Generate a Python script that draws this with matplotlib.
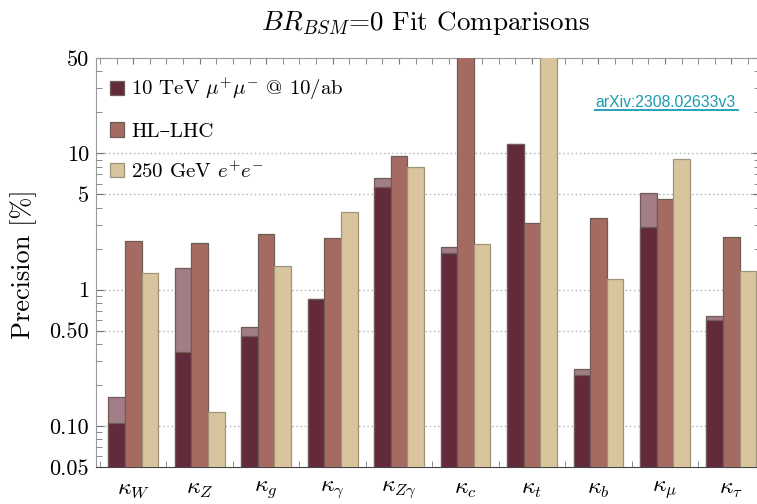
import numpy as np
import matplotlib
matplotlib.use("Agg")
import matplotlib.pyplot as plt
from matplotlib.lines import Line2D

plt.rcParams['font.family'] = ['cmr10', 'DejaVu Serif']
plt.rcParams['mathtext.fontset'] = 'cm'
plt.rcParams['axes.formatter.use_mathtext'] = True

# data (precision in %)
labels = [r'$\kappa_W$', r'$\kappa_Z$', r'$\kappa_g$', r'$\kappa_\gamma$', r'$\kappa_{Z\gamma}$',
          r'$\kappa_c$', r'$\kappa_t$', r'$\kappa_b$', r'$\kappa_\mu$', r'$\kappa_\tau$']
muon_10tev = [0.105, 0.35, 0.46, 0.85, 5.7, 1.87, 11.7, 0.236, 2.9, 0.60]
muon_10tev_upper = [0.163, 1.44, 0.53, 0.85, 6.6, 2.06, 11.7, 0.26, 5.1, 0.64]
hl_lhc = [2.27, 2.2, 2.54, 2.38, 9.5, 60, 3.08, 3.37, 4.6, 2.42]
ee_250 = [1.32, 0.126, 1.49, 3.7, 7.9, 2.17, 60, 1.2, 9.1, 1.36]

c_dark = '#622a3a'
c_light = '#a27d87'
c_hl = '#a56b62'
c_ee = '#d8c59d'
edge = '#6e5c55'

fig = plt.figure(figsize=(7.57, 5.04), dpi=100)
ax = fig.add_axes([96/757, 37/504, 664/757, 409/504])

x = np.arange(1, len(labels) + 1)
w = 0.25

# lighter part = looser fit, dark drawn on top
ax.bar(x - w, muon_10tev_upper, w, color=c_light, edgecolor=edge, linewidth=0.9, zorder=2)
ax.bar(x - w, muon_10tev, w, color=c_dark, edgecolor=edge, linewidth=0.9, zorder=3,
       label=r'10 TeV $\mu^{+}\mu^{-}$ @ 10/ab')
ax.bar(x, hl_lhc, w, color=c_hl, edgecolor=edge, linewidth=0.9, zorder=3, label='HL\u2013LHC')
ax.bar(x + w, ee_250, w, color=c_ee, edgecolor='#a09478', linewidth=0.9, zorder=3,
       label=r'250 GeV $e^{+}e^{-}$')

ax.set_yscale('log')
ax.set_ylim(0.05, 50)
ax.set_xlim(0.44, 10.43)

yt = [0.05, 0.1, 0.5, 1, 5, 10, 50]
ytl = ['0.05', '0.10', '0.50', '1', '5', '10', '50']
ax.set_yticks(yt)
ax.set_yticklabels(ytl)
minor = [v * m for v in [0.01, 0.1, 1, 10] for m in range(2, 10)]
minor = [v for v in minor if 0.05 < v < 50 and v not in yt]
ax.set_yticks(minor, minor=True)
ax.yaxis.set_minor_formatter(plt.NullFormatter())
ax.tick_params(axis='y', which='both', direction='in', left=True, right=True,
               labelsize=16, pad=5, color='#777777')
ax.tick_params(axis='y', which='major', length=6)
ax.tick_params(axis='y', which='minor', length=4)

ax.set_xticks(x)
ax.set_xticklabels(labels)
ax.set_xticks(np.arange(0.5, 10.5, 0.25), minor=True)
ax.tick_params(axis='x', which='both', direction='in', top=True, bottom=True,
               labelsize=17, pad=8, length=4, color='#777777')

for g in [0.1, 0.5, 1, 5, 10]:
    ax.axhline(g, color='#b0b0b0', linestyle=(0, (1, 2)), linewidth=1, zorder=1)

for s in ['top', 'left', 'right']:
    ax.spines[s].set_color('#999999')
ax.spines['bottom'].set_color('#444444')

leg = ax.legend(loc='upper left', bbox_to_anchor=(0.021, 0.955), frameon=False,
                fontsize=15, handlelength=0.68, handleheight=0.68, handletextpad=0.35,
                labelspacing=0.95, borderpad=0, borderaxespad=0)

fig.text(24/757, 1 - 264/504, 'Precision [%]', rotation=90, ha='center', va='center', fontsize=19)
fig.text(425/757, 1 - 23/504, r'$BR_{BSM}$=0 Fit Comparisons', ha='center', va='center', fontsize=19.5)

fig.text(595/757, 1 - 107/504, 'arXiv:2308.02633v3', family='Liberation Sans',
         fontsize=11.3, color='#1a9bb0', ha='left', va='baseline')
fig.add_artist(Line2D([595/757, 738/757], [1 - 109.5/504, 1 - 109.5/504],
                      color='#1a9bb0', linewidth=1.3))

fig.savefig('out.png', dpi=100)
